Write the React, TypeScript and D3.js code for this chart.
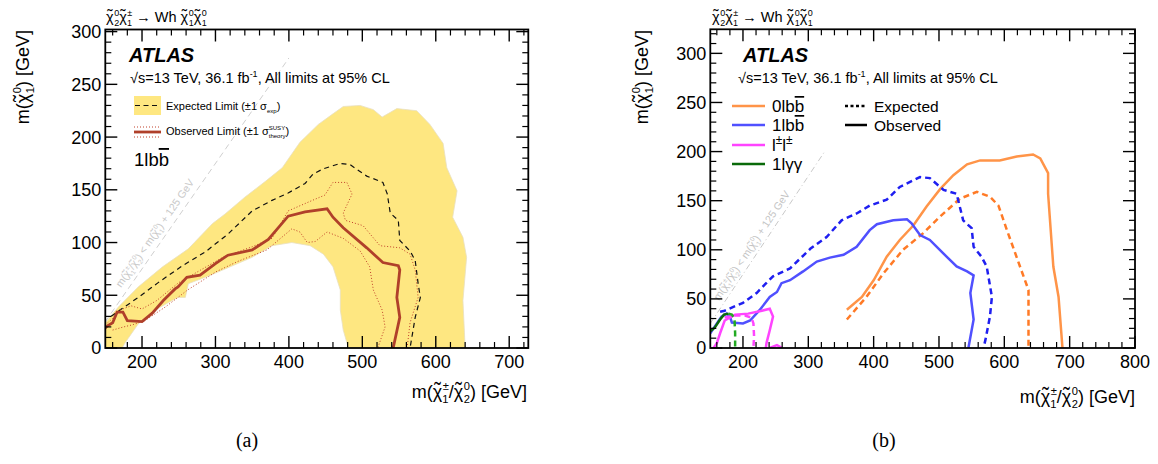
import React from "react";
import * as d3 from "d3";

type P = [number, number];

// ---------- Panel (a) data: 1lbb ----------
const bandA: P[] = [
  [150, 0], [150, 24], [168, 39], [195, 58], [228, 77], [263, 94], [296, 118], [313, 127], [340, 143],
  [368, 158], [391, 171], [415, 195], [440, 212], [460, 222], [474, 229], [497, 230], [515, 226],
  [527, 219], [547, 227], [574, 225], [592, 212], [610, 194], [615, 171], [629, 149], [623, 124],
  [637, 105], [642, 86], [637, 45], [640, 0], [481, 0], [474, 17], [470, 36], [470, 55], [460, 77],
  [447, 89], [429, 97], [404, 100], [377, 97], [350, 86], [300, 71], [286, 67], [263, 61], [259, 48],
  [249, 48], [241, 45], [218, 36], [195, 23], [177, 5], [173, 0],
];
const obsA: P[] = [
  [150, 19], [153, 21], [160, 24], [166, 34], [174, 34], [180, 26], [200, 25], [214, 33], [229, 45],
  [245, 56], [249, 58], [261, 67], [279, 69], [300, 80], [317, 88], [350, 93], [372, 103], [399, 125],
  [422, 129], [452, 132], [460, 124], [474, 114], [506, 95], [528, 81], [549, 78], [551, 74],
  [547, 48], [551, 29], [542, 0],
];
const obsUpA: P[] = [
  [150, 22], [160, 28], [170, 36], [185, 40], [200, 37], [220, 45], [250, 62], [280, 74], [310, 86],
  [350, 96], [377, 104], [399, 130], [432, 140], [449, 145], [460, 157], [479, 157], [486, 146],
  [474, 128], [477, 121], [501, 116], [524, 97], [551, 95], [565, 89], [572, 74], [576, 48],
  [565, 24], [561, 0],
];
const obsDnA: P[] = [
  [160, 17], [175, 20], [187, 22], [204, 26], [232, 39], [249, 48], [262, 55], [280, 63], [300, 72],
  [330, 82], [370, 93], [404, 113], [415, 110], [425, 100], [436, 101], [452, 110], [474, 104],
  [497, 92], [510, 77], [515, 55], [527, 36], [531, 20], [521, 0],
];
const expA: P[] = [
  [158, 30], [170, 36], [195, 48], [222, 62], [255, 78], [286, 91], [317, 108], [350, 130], [377, 140],
  [399, 147], [422, 156], [433, 165], [447, 170], [470, 175], [483, 174], [506, 163], [528, 157],
  [534, 146], [538, 128], [549, 121], [551, 102], [565, 92], [572, 83], [576, 61], [579, 48],
  [572, 29], [565, 0],
];
const xTicksA = [200, 300, 400, 500, 600, 700];
const yTicksA = [0, 50, 100, 150, 200, 250, 300];

// ---------- Panel (b) data ----------
const obs0l: P[] = [
  [359, 39], [382, 52], [400, 69], [420, 93], [440, 110], [461, 125], [481, 144], [502, 162],
  [522, 176], [543, 187], [563, 191], [593, 191], [619, 195], [644, 197], [655, 193], [667, 178],
  [667, 157], [675, 83], [683, 52], [689, 0],
];
const exp0l: P[] = [
  [359, 29], [389, 52], [415, 76], [445, 100], [476, 117], [502, 134], [532, 152], [558, 159],
  [578, 154], [591, 145], [604, 120], [624, 83], [637, 59], [637, 0],
];
const obs1l: P[] = [
  [150, 15], [155, 20], [167, 32], [175, 35], [180, 32], [183, 26], [200, 25], [211, 28], [226, 39],
  [241, 52], [252, 57], [259, 66], [272, 69], [292, 78], [313, 88], [333, 92], [354, 95], [374, 103],
  [394, 120], [405, 126], [430, 130], [451, 131], [458, 127], [471, 115], [486, 110], [507, 96],
  [527, 83], [543, 78], [553, 74], [548, 56], [553, 29], [545, 0],
];
const exp1l: P[] = [
  [165, 37], [172, 38], [200, 46], [221, 56], [234, 65], [246, 73], [272, 81], [303, 101], [328, 113],
  [351, 130], [374, 137], [394, 145], [420, 151], [440, 164], [471, 174], [486, 173], [507, 161],
  [527, 157], [537, 130], [550, 122], [553, 103], [565, 93], [573, 83], [581, 52], [578, 32],
  [571, 8], [568, 0],
];
const obsSS: P[] = [
  [155, 0], [160, 5], [165, 15], [172, 28], [188, 34], [208, 35], [229, 38], [241, 40], [246, 32],
  [241, 18], [236, 5], [235, 0],
];
const obsSS2: P[] = [[241, 0], [252, 3], [260, 0]];
const expSS: P[] = [[172, 31], [188, 33], [203, 33], [213, 31], [216, 25], [217, 12], [216, 0]];
const obsGG: P[] = [[150, 17], [157, 21], [165, 29], [171, 34], [178, 35]];
const expGG: P[] = [[178, 35], [183, 34], [187, 30], [188, 15], [188, 0]];
const xTicksB = [200, 300, 400, 500, 600, 700, 800];
const yTicksB = [0, 50, 100, 150, 200, 250, 300];

const FONT = "'Liberation Sans', Arial, Helvetica, sans-serif";

type Seg = { t?: string; chi?: boolean; sup?: string; sub?: string; ol?: string; r?: number };

function estW(s: string, fs: number) {
  let w = 0;
  for (const c of s) {
    if (c === "±") w += 0.584;
    else if ("SUY".includes(c)) w += 0.68;
    else if ("tr".includes(c)) w += 0.32;
    else w += 0.556;
  }
  return w * fs;
}

// Builds tspans; baseline shifts and horizontal corrections are carried to the next tspan.
function rich(segs: Seg[], fs: number) {
  const out: any[] = [];
  let cur = 0; // current baseline offset
  let pdx = 0; // pending dx
  let k = 0;
  const push = (text: string, target: number, opts: any = {}) => {
    const dx = (opts.dx ?? 0) + pdx;
    pdx = 0;
    const dy = target - cur;
    cur = target;
    out.push(
      <tspan key={k++} dx={dx || undefined} dy={dy || undefined} fontSize={opts.fontSize} style={opts.style}>
        {text}
      </tspan>
    );
  };
  segs.forEach((s) => {
    const r = s.r ?? 0.62;
    const sfs = fs * r;
    if (s.t) push(s.t, 0);
    if (s.chi) {
      const wc = 0.52 * fs;
      const wt = 0.333 * fs * 1.1;
      push("\u03c7", 0);
      push("\u02dc", -0.04 * fs, { dx: -(wc + wt) / 2, fontSize: fs * 1.1 });
      pdx += (wc - wt) / 2 + 0.5;
    }
    if (s.ol) push(s.ol, 0, { style: { textDecoration: "overline" } });
    if (s.sup) push(s.sup, -0.42 * fs, { fontSize: sfs });
    if (s.sub) {
      const dx = s.sup ? -estW(s.sup, sfs) : 0;
      push(s.sub, 0.3 * fs, { dx, fontSize: sfs });
      if (s.sup) {
        const diff = estW(s.sup, sfs) - estW(s.sub, sfs);
        if (diff > 0) pdx += diff;
      }
    }
    if (s.chi && !s.sup && !s.sub) {
      // nothing
    }
  });
  return out;
}

const yTitle: Seg[] = [{ t: "m(" }, { chi: true, sup: "0", sub: "1" }, { t: ") [GeV]" }];
const xTitle: Seg[] = [
  { t: "m(" }, { chi: true, sup: "±", sub: "1" }, { t: "/" }, { chi: true, sup: "0", sub: "2" }, { t: ") [GeV]" },
];
const procTitle: Seg[] = [
  { chi: true, sup: "0", sub: "2" }, { chi: true, sup: "±", sub: "1" }, { t: " \u2192 Wh " },
  { chi: true, sup: "0", sub: "1" }, { chi: true, sup: "0", sub: "1" },
];
const diagText: Seg[] = [
  { t: "m(" }, { chi: true, sup: "±", sub: "1" }, { t: "/" }, { chi: true, sup: "0", sub: "2" },
  { t: ") < m(" }, { chi: true, sup: "0", sub: "1" }, { t: ") + 125 GeV" },
];
const energy: Seg[] = [{ t: "\u221as=13 TeV, 36.1 fb", sup: "-1" }, { t: ", All limits at 95% CL" }];

interface AxesProps {
  x: d3.ScaleLinear<number, number>;
  y: d3.ScaleLinear<number, number>;
  xt: number[];
  yt: number[];
  xMinor: number[];
  yMinor: number[];
}

function Axes({ x, y, xt, yt, xMinor, yMinor }: AxesProps) {
  const [x0, x1] = x.range();
  const [y0, y1] = y.range();
  const ML = 12, mL = 6;
  return (
    <g>
      {xMinor.map((v) => (
        <g key={"xm" + v}>
          <line x1={x(v)} x2={x(v)} y1={y0} y2={y0 - mL} stroke="#000" strokeWidth={1.2} />
          <line x1={x(v)} x2={x(v)} y1={y1} y2={y1 + mL} stroke="#000" strokeWidth={1.2} />
        </g>
      ))}
      {xt.map((v) => (
        <g key={"xM" + v}>
          <line x1={x(v)} x2={x(v)} y1={y0} y2={y0 - ML} stroke="#000" strokeWidth={1.4} />
          <line x1={x(v)} x2={x(v)} y1={y1} y2={y1 + ML} stroke="#000" strokeWidth={1.4} />
          <text x={x(v)} y={368} fontSize={18} textAnchor="middle" fontFamily={FONT}>{v}</text>
        </g>
      ))}
      {yMinor.map((v) => (
        <g key={"ym" + v}>
          <line x1={x0} x2={x0 + mL} y1={y(v)} y2={y(v)} stroke="#000" strokeWidth={1.2} />
          <line x1={x1} x2={x1 - mL} y1={y(v)} y2={y(v)} stroke="#000" strokeWidth={1.2} />
        </g>
      ))}
      {yt.map((v) => (
        <g key={"yM" + v}>
          <line x1={x0} x2={x0 + ML} y1={y(v)} y2={y(v)} stroke="#000" strokeWidth={1.4} />
          <line x1={x1} x2={x1 - ML} y1={y(v)} y2={y(v)} stroke="#000" strokeWidth={1.4} />
          <text x={x0 - 4} y={y(v)} dy="0.36em" fontSize={18} textAnchor="end" fontFamily={FONT}>{v}</text>
        </g>
      ))}
      <rect x={x0} y={y1} width={x1 - x0} height={y0 - y1} fill="none" stroke="#000" strokeWidth={1.8} />
    </g>
  );
}

export default function App() {
  const xa = d3.scaleLinear().domain([150, 726]).range([105.3, 528.3]);
  const ya = d3.scaleLinear().domain([0, 302]).range([348, 29.5]);
  const xb = d3.scaleLinear().domain([150, 800]).range([710.3, 1135]);
  const yb = d3.scaleLinear().domain([0, 324.5]).range([348, 29.3]);

  const la = d3.line<P>().x((d) => xa(d[0])).y((d) => ya(d[1]));
  const lb = d3.line<P>().x((d) => xb(d[0])).y((d) => yb(d[1]));

  const xMinorA = d3.range(160, 726, 20).filter((v) => v % 100 !== 0);
  const yMinorA = d3.range(10, 302, 10).filter((v) => v % 50 !== 0);
  const xMinorB = d3.range(160, 800, 20).filter((v) => v % 100 !== 0);
  const yMinorB = d3.range(10, 324, 10).filter((v) => v % 50 !== 0);

  const angA = (Math.atan2(ya(0) - ya(1), xa(1) - xa(0)) * 180) / Math.PI;
  const angB = (Math.atan2(yb(0) - yb(1), xb(1) - xb(0)) * 180) / Math.PI;

  const colors = { o: "#ff9448", od: "#ff7a26", b: "#5050ff", bd: "#1f1ff0", m: "#ff44ff", g: "#0a6a0a", gd: "#22aa22" };

  return (
    <svg width={1158} height={464} style={{ position: "absolute", left: 0, top: 0, background: "#fff" }} fontFamily={FONT}>
      <defs>
        <clipPath id="ca">
          <rect x={105.3} y={29.5} width={423} height={318.5} />
        </clipPath>
        <clipPath id="cb">
          <rect x={710.3} y={29.3} width={424.7} height={318.7} />
        </clipPath>
      </defs>
      <rect x={0} y={0} width={1158} height={464} fill="#fff" />

      {/* ===== Panel (a) ===== */}
      <g clipPath="url(#ca)">
        <path d={la(bandA) + "Z"} fill="#fee781" stroke="#e8e0c0" strokeWidth={0.8} />
        <path d={la([[150, 25], [400, 275]])!} stroke="#cfcfcf" strokeWidth={1} strokeDasharray="6,4" fill="none" />
        <path d={la(expA)!} stroke="#111" strokeWidth={1.2} strokeDasharray="5,4" fill="none" />
        <path d={la(obsUpA)!} stroke="#c0402a" strokeWidth={1} strokeDasharray="1,2" fill="none" />
        <path d={la(obsDnA)!} stroke="#c0402a" strokeWidth={1} strokeDasharray="1,2" fill="none" />
        <path d={la(obsA)!} stroke="#b0402a" strokeWidth={2.8} fill="none" />
      </g>
      <text transform={`translate(121,288) rotate(${-angA})`} fontSize={10.5} fill="#c8c8c8">
        {rich(diagText, 10.5)}
      </text>
      <Axes x={xa} y={ya} xt={xTicksA} yt={yTicksA} xMinor={xMinorA} yMinor={yMinorA} />

      <text x={106} y={22} fontSize={14.5}>{rich(procTitle, 14.5)}</text>
      <text x={129} y={62} fontSize={20} fontWeight="bold" fontStyle="italic">ATLAS</text>
      <text x={130} y={83} fontSize={14.5}>{rich(energy, 14.5)}</text>
      <rect x={134} y={96} width={27} height={19} fill="#fee781" />
      <line x1={135} x2={160} y1={105.5} y2={105.5} stroke="#111" strokeWidth={1.2} strokeDasharray="5,3.5" />
      <text x={166} y={110} fontSize={11}>{rich([{ t: "Expected Limit (±1 σ", sub: "exp", r: 0.55 }, { t: ")" }], 11)}</text>
      <line x1={134} x2={161} y1={127} y2={127} stroke="#c0402a" strokeWidth={1} strokeDasharray="1,2" />
      <line x1={134} x2={161} y1={132} y2={132} stroke="#b0402a" strokeWidth={2.8} />
      <line x1={134} x2={161} y1={137} y2={137} stroke="#c0402a" strokeWidth={1} strokeDasharray="1,2" />
      <text x={166} y={135} fontSize={11}>{rich([{ t: "Observed Limit (±1 σ", sup: "SUSY", sub: "theory", r: 0.55 }, { t: ")" }], 11)}</text>
      <text x={134} y={166} fontSize={18.5}>{rich([{ t: "1lb", ol: "b" }], 18.5)}</text>

      <text transform="translate(29,30) rotate(-90)" fontSize={18} textAnchor="end">{rich(yTitle, 18)}</text>
      <text x={527} y={398} fontSize={18} textAnchor="end">{rich(xTitle, 18)}</text>
      <text x={247} y={447} fontSize={20} textAnchor="middle" fontFamily="'Liberation Serif', 'DejaVu Serif', serif">(a)</text>

      {/* ===== Panel (b) ===== */}
      <g clipPath="url(#cb)">
        <path d={lb([[150, 25], [325, 200]])!} stroke="#c8c8c8" strokeWidth={1} strokeDasharray="6,3,1,3" fill="none" />
        <path d={lb(exp0l)!} stroke={colors.od} strokeWidth={2.5} strokeDasharray="6,4" fill="none" />
        <path d={lb(obs0l)!} stroke={colors.o} strokeWidth={2.5} fill="none" />
        <path d={lb(exp1l)!} stroke={colors.bd} strokeWidth={2.5} strokeDasharray="6,4" fill="none" />
        <path d={lb(obs1l)!} stroke={colors.b} strokeWidth={2.5} fill="none" />
        <path d={lb(expSS)!} stroke={colors.m} strokeWidth={2.5} strokeDasharray="6,4" fill="none" />
        <path d={lb(obsSS)!} stroke={colors.m} strokeWidth={2.5} fill="none" />
        <path d={lb(obsSS2)!} stroke={colors.m} strokeWidth={2.5} fill="none" />
        <path d={lb(obsGG)!} stroke={colors.g} strokeWidth={2.5} fill="none" />
        <path d={lb(expGG)!} stroke={colors.gd} strokeWidth={2.5} strokeDasharray="6,4" fill="none" />
      </g>
      <text transform={`translate(719,301) rotate(${-angB})`} fontSize={10.5} fill="#c4c4c4">
        {rich(diagText, 10.5)}
      </text>
      <Axes x={xb} y={yb} xt={xTicksB} yt={yTicksB} xMinor={xMinorB} yMinor={yMinorB} />

      <text x={712} y={22} fontSize={14.5}>{rich(procTitle, 14.5)}</text>
      <text x={743} y={62} fontSize={20} fontWeight="bold" fontStyle="italic">ATLAS</text>
      <text x={738} y={83} fontSize={14.5}>{rich(energy, 14.5)}</text>

      {[
        { c: colors.o, y: 106, s: [{ t: "0lb", ol: "b" }] as Seg[] },
        { c: colors.b, y: 125, s: [{ t: "1lb", ol: "b" }] as Seg[] },
        { c: colors.m, y: 145, s: [{ t: "l", sup: "±", r: 0.7 }, { t: "l", sup: "±", r: 0.7 }] as Seg[] },
        { c: colors.g, y: 164, s: [{ t: "1l\u03b3\u03b3" }] as Seg[] },
      ].map((e, i) => (
        <g key={"lg" + i}>
          <line x1={732} x2={765} y1={e.y} y2={e.y} stroke={e.c} strokeWidth={2.5} />
          <text x={772} y={e.y + 6} fontSize={17}>{rich(e.s, 17)}</text>
        </g>
      ))}
      <line x1={845} x2={867} y1={106} y2={106} stroke="#000" strokeWidth={2.5} strokeDasharray="3,2.5" />
      <text x={874} y={112} fontSize={15.5}>Expected</text>
      <line x1={845} x2={867} y1={125} y2={125} stroke="#000" strokeWidth={2.5} />
      <text x={874} y={131} fontSize={15.5}>Observed</text>

      <text transform="translate(648,30) rotate(-90)" fontSize={18} textAnchor="end">{rich(yTitle, 18)}</text>
      <text x={1135} y={403} fontSize={18} textAnchor="end">{rich(xTitle, 18)}</text>
      <text x={884} y={447} fontSize={20} textAnchor="middle" fontFamily="'Liberation Serif', 'DejaVu Serif', serif">(b)</text>
    </svg>
  );
}
